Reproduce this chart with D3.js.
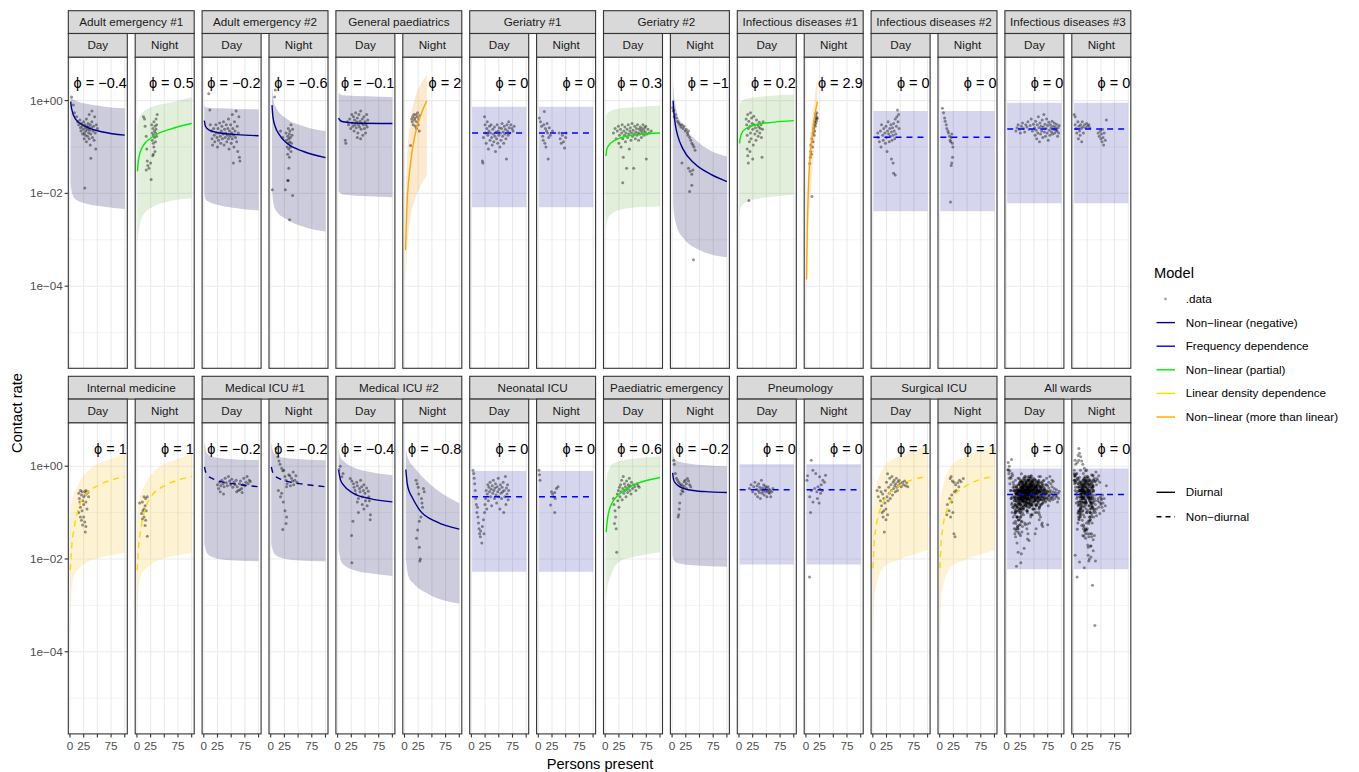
<!DOCTYPE html>
<html>
<head>
<meta charset="utf-8">
<script src="https://cdn.jsdelivr.net/npm/d3@7"></script>
<style>
  body { margin: 0; background: #fff; }
  text { font-family: "Liberation Sans", Arial, sans-serif; }
</style>
</head>
<body>
<svg id="chart"></svg>
<script>
// ---- data ----
const wards = ["Adult emergency #1", "Adult emergency #2", "General paediatrics", "Geriatry #1",
  "Geriatry #2", "Infectious diseases #1", "Infectious diseases #2", "Infectious diseases #3",
  "Internal medicine", "Medical ICU #1", "Medical ICU #2", "Neonatal ICU",
  "Paediatric emergency", "Pneumology", "Surgical ICU", "All wards"];
const periods = ["Day", "Night"];

const phiDay   = [-0.4, -0.2, -0.1, 0, 0.3, 0.2, 0, 0, 1, -0.2, -0.4, 0, 0.6, 0, 1, 0];
const phiNight = [0.5, -0.6, 2, 0, -1, 2.9, 0, 0, 1, -0.2, -0.8, 0, -0.2, 0, 1, 0];

const modelNames = [".data", "Non\u2212linear (negative)", "Frequency dependence", "Non\u2212linear (partial)",
  "Linear density dependence", "Non\u2212linear (more than linear)"];
const modelColors = ["#8c8c8c", "#00008B", "#0000FF", "#00EE00", "#FFD700", "#FFA500"];
const ribbonColors = ["#fff", "#000055", "#2d2daa", "#6eaf46", "#f5c323", "#f5910f"];
const diurnalNames = ["Diurnal", "Non\u2212diurnal"];

// model index per ward (into modelNames)
const modelDay   = [1, 1, 1, 2, 3, 3, 2, 2, 4, 1, 1, 2, 3, 2, 4, 2];
const modelNight = [3, 1, 5, 2, 1, 5, 2, 2, 4, 1, 1, 2, 1, 2, 4, 2];
// 1 = diurnal (solid), 0 = non-diurnal (dashed)
const diurnal = [1, 1, 1, 0, 1, 1, 0, 0, 0, 0, 1, 0, 1, 0, 0, 0];

// fitted curves [persons, rate]
const lineDay = [
  [[1.2,0.95],[3,0.66],[10,0.4],[30,0.27],[60,0.21],[100,0.18]],
  [[1,0.37],[3,0.28],[10,0.23],[30,0.2],[60,0.185],[100,0.175]],
  [[1.8,0.42],[5,0.37],[10,0.35],[30,0.33],[100,0.32]],
  [[1.2,0.2],[100,0.2]],
  [[1.2,0.064],[3,0.09],[10,0.12],[30,0.16],[60,0.185],[100,0.2]],
  [[1,0.12],[2,0.15],[5,0.2],[13,0.25],[30,0.3],[60,0.34],[100,0.37]],
  [[1.2,0.162],[100,0.162]],
  [[1.2,0.245],[100,0.245]],
  [[0.5,0.0057],[3.6,0.021],[8,0.05],[19,0.16],[28,0.24],[43,0.34],[58,0.42],[77,0.51],[100,0.6]],
  [[1.2,0.97],[3,0.78],[8,0.62],[16,0.54],[30,0.47],[60,0.41],[100,0.36]],
  [[1.8,0.82],[5,0.52],[10.9,0.39],[29,0.26],[59.5,0.2],[100,0.17]],
  [[1.2,0.22],[100,0.22]],
  [[1.8,0.038],[4,0.07],[9,0.13],[27.3,0.26],[51.6,0.39],[100,0.57]],
  [[1.2,0.31],[100,0.31]],
  [[0.5,0.0063],[2,0.017],[6,0.049],[15,0.13],[27.3,0.24],[45.5,0.36],[70,0.5],[100,0.6]],
  [[1,0.245],[100,0.245]]
];
const lineNight = [
  [[1,0.03],[3,0.055],[10,0.1],[30,0.17],[60,0.24],[100,0.32]],
  [[2.4,0.8],[4,0.45],[8.5,0.27],[15,0.19],[30,0.12],[60,0.08],[100,0.059]],
  [[1.8,0.0006],[4,0.004],[10,0.035],[20,0.2],[30,0.5],[40.7,1.0]],
  [[1.2,0.2],[100,0.2]],
  [[1.8,1.0],[3,0.6],[6,0.3],[10,0.18],[20,0.09],[40,0.045],[70,0.026],[100,0.018]],
  [[1.2,0.00014],[2.4,0.0014],[4.2,0.01],[7.2,0.053],[10,0.12],[13.3,0.27],[17,0.55],[21.2,0.95]],
  [[1.2,0.162],[100,0.162]],
  [[1.2,0.245],[100,0.245]],
  [[0.5,0.0057],[3.6,0.021],[8,0.05],[19,0.16],[28,0.24],[43,0.34],[58,0.42],[77,0.51],[100,0.6]],
  [[1.2,0.97],[3,0.78],[8,0.62],[16,0.54],[30,0.47],[60,0.41],[100,0.36]],
  [[2.4,0.85],[5,0.42],[8,0.3],[13.5,0.22],[28.5,0.11],[59,0.063],[100,0.044]],
  [[1.2,0.22],[100,0.22]],
  [[1,0.72],[3,0.5],[7,0.42],[14,0.36],[38,0.3],[70,0.28],[100,0.27]],
  [[1.2,0.31],[100,0.31]],
  [[0.5,0.0063],[2,0.017],[6,0.049],[15,0.13],[27.3,0.24],[45.5,0.36],[70,0.5],[100,0.6]],
  [[1,0.245],[100,0.245]]
];

// prediction bands [persons, lower, upper]
const ribbonDay = [
  [[1.2,0.017,1.3],[3,0.011,1.15],[10,0.0075,1.0],[30,0.006,0.85],[60,0.0052,0.75],[100,0.0046,0.68]],
  [[1,0.01,0.8],[3,0.0075,0.72],[10,0.0065,0.7],[30,0.0055,0.68],[60,0.0048,0.66],[100,0.0043,0.65]],
  [[1.8,0.011,1.45],[10,0.0095,1.3],[100,0.0083,1.2]],
  [[1.2,0.005,0.74],[100,0.005,0.74]],
  [[1.2,0.0016,0.45],[3,0.0024,0.52],[10,0.0035,0.6],[30,0.0045,0.68],[60,0.005,0.73],[100,0.0053,0.77]],
  [[1,0.0037,0.74],[3,0.0048,0.9],[10,0.0062,1.05],[30,0.0075,1.18],[60,0.0085,1.27],[100,0.0093,1.33]],
  [[1.2,0.0041,0.6],[100,0.0041,0.6]],
  [[1.2,0.0061,0.9],[100,0.0061,0.9]],
  [[0.5,0.0002,0.042],[2,0.0012,0.12],[3.6,0.0025,0.18],[9.7,0.0049,0.3],[18.9,0.0065,0.5],[34,0.0088,0.82],[52,0.0105,1.14],[77,0.0122,1.46],[100,0.0135,1.87]],
  [[1.2,0.021,3.3],[5,0.014,2.0],[15,0.011,1.6],[40,0.0095,1.45],[100,0.0089,1.35]],
  [[1.8,0.016,2.4],[5,0.01,1.6],[10.9,0.0075,1.3],[29,0.0058,0.95],[59.5,0.0049,0.75],[100,0.0043,0.64]],
  [[1.2,0.0053,0.79],[100,0.0053,0.79]],
  [[1.8,0.0013,0.45],[4,0.0025,0.7],[9,0.004,0.95],[15,0.006,1.15],[27.3,0.009,1.3],[51.6,0.011,1.45],[100,0.014,1.64]],
  [[1.2,0.0076,1.1],[100,0.0076,1.1]],
  [[0.5,0.0002,0.07],[3,0.0015,0.25],[6,0.0025,0.38],[9,0.0035,0.5],[21,0.0068,1.0],[45.5,0.0094,1.6],[100,0.0155,2.6]],
  [[1,0.006,0.89],[100,0.006,0.89]]
];
const ribbonNight = [
  [[1,0.0009,0.28],[3,0.0014,0.4],[10,0.0032,0.55],[30,0.0052,0.75],[60,0.0068,0.9],[100,0.0079,1.2]],
  [[2.4,0.012,2.0],[5,0.006,1.0],[10,0.0042,0.7],[30,0.0027,0.4],[60,0.0019,0.28],[100,0.0015,0.22]],
  [[1.8,0.0001,0.004],[4,0.0004,0.03],[10,0.0025,0.3],[20,0.008,1.2],[30,0.015,2.3],[40.7,0.025,3.6]],
  [[1.2,0.005,0.74],[100,0.005,0.74]],
  [[1.8,0.006,3.0],[3,0.004,1.6],[6,0.0025,0.8],[10,0.0017,0.5],[20,0.0011,0.3],[50,0.0006,0.12],[100,0.00042,0.062]],
  [[1.2,0.00003,0.0003],[2.4,0.0002,0.004],[4.2,0.0012,0.03],[7.2,0.006,0.14],[10,0.015,0.3],[13.3,0.05,0.6],[17,0.15,1.5],[21.2,0.35,3.3]],
  [[1.2,0.0041,0.6],[100,0.0041,0.6]],
  [[1.2,0.0061,0.9],[100,0.0061,0.9]],
  [[0.5,0.0002,0.042],[2,0.0012,0.12],[3.6,0.0025,0.18],[9.7,0.0049,0.3],[18.9,0.0065,0.5],[34,0.0088,0.82],[52,0.0105,1.14],[77,0.0122,1.46],[100,0.0135,1.87]],
  [[1.2,0.021,3.3],[5,0.014,2.0],[15,0.011,1.6],[40,0.0095,1.45],[100,0.0089,1.35]],
  [[2.4,0.01,2.4],[5,0.0055,1.7],[8,0.004,1.35],[16,0.003,1.0],[46,0.0017,0.42],[100,0.0011,0.16]],
  [[1.2,0.0053,0.79],[100,0.0053,0.79]],
  [[1,0.012,2.4],[3,0.0095,1.6],[7,0.0085,1.35],[14,0.008,1.24],[38,0.0073,1.1],[100,0.0068,1.0]],
  [[1.2,0.0076,1.1],[100,0.0076,1.1]],
  [[0.5,0.0002,0.07],[3,0.0015,0.25],[6,0.0025,0.38],[9,0.0035,0.5],[21,0.0068,1.0],[45.5,0.0094,1.6],[100,0.0155,2.6]],
  [[1,0.006,0.89],[100,0.006,0.89]]
];

// observed contact rates [persons present, rate] for the 15 wards
const pointsDay = [
  [[3,1.2],[6,0.8],[8,0.55],[12,0.45],[14,0.35],[16,0.3],[18,0.38],[19,0.26],[20,0.22],[21,0.32],[22,0.28],[23,0.19],[24,0.24],[25,0.35],[26,0.2],[26,0.15],[27,0.3],[28,0.26],[28,0.18],[29,0.22],[30,0.4],[30,0.13],[31,0.28],[32,0.24],[32,0.17],[33,0.32],[34,0.2],[34,0.27],[35,0.5],[35,0.15],[36,0.23],[37,0.3],[37,0.11],[38,0.19],[39,0.26],[40,0.6],[40,0.35],[41,0.16],[42,0.22],[43,0.28],[44,0.14],[45,0.45],[46,0.2],[47,0.09],[48,0.3],[50,0.25],[38,0.057],[27,0.013]],
  [[9,1.4],[11,0.63],[12,0.3],[14,0.22],[15,0.15],[16,0.11],[18,0.25],[19,0.18],[20,0.13],[22,0.3],[23,0.2],[24,0.16],[25,0.1],[26,0.25],[27,0.14],[28,0.2],[29,0.33],[30,0.17],[31,0.12],[32,0.22],[33,0.28],[34,0.15],[35,0.19],[36,0.35],[37,0.11],[38,0.24],[39,0.16],[40,0.2],[41,0.3],[42,0.13],[43,0.18],[44,0.25],[45,0.4],[45,0.15],[46,0.09],[47,0.22],[48,0.17],[49,0.3],[50,0.12],[51,0.2],[52,0.5],[52,0.15],[53,0.25],[54,0.18],[55,0.1],[56,0.35],[57,0.22],[58,0.16],[59,0.6],[60,0.13],[61,0.28],[62,0.08],[63,0.2],[64,0.45],[65,0.06],[54,0.045],[66,0.05]],
  [[14,0.14],[15,0.12],[18,0.35],[20,0.3],[22,0.4],[24,0.25],[26,0.5],[27,0.33],[28,0.28],[29,0.45],[30,0.22],[31,0.38],[32,0.3],[33,0.55],[34,0.26],[35,0.35],[36,0.42],[37,0.2],[38,0.3],[39,0.5],[40,0.27],[41,0.36],[42,0.6],[43,0.24],[44,0.32],[45,0.4],[46,0.18],[47,0.3],[48,0.45],[49,0.25],[50,0.35],[51,0.2],[52,0.3],[53,0.5],[54,0.27],[55,0.38],[42,0.15],[36,0.16]],
  [[20,0.05],[21,0.045],[22,0.16],[24,0.45],[25,0.3],[26,0.2],[27,0.12],[28,0.25],[29,0.35],[30,0.18],[31,0.09],[32,0.22],[33,0.28],[34,0.14],[35,0.2],[36,0.3],[37,0.16],[38,0.11],[39,0.24],[40,0.19],[41,0.13],[42,0.27],[43,0.17],[44,0.08],[45,0.21],[46,0.15],[47,0.3],[48,0.12],[49,0.22],[50,0.18],[51,0.26],[52,0.1],[53,0.2],[54,0.14],[55,0.25],[56,0.32],[57,0.17],[58,0.21],[59,0.12],[60,0.28],[61,0.19],[62,0.24],[63,0.15],[64,0.055],[65,0.3],[66,0.22],[67,0.18],[68,0.35],[69,0.26],[70,0.2],[72,0.3],[74,0.25],[76,0.22],[78,0.28]],
  [[15,0.2],[18,0.25],[20,0.15],[22,0.22],[24,0.28],[25,0.12],[26,0.18],[28,0.24],[29,0.1],[30,0.2],[31,0.3],[32,0.017],[32,0.15],[33,0.06],[34,0.22],[35,0.18],[36,0.27],[37,0.13],[38,0.2],[39,0.035],[40,0.24],[41,0.16],[42,0.3],[43,0.19],[44,0.09],[45,0.22],[46,0.26],[47,0.14],[48,0.2],[49,0.32],[50,0.17],[51,0.23],[52,0.035],[53,0.19],[54,0.28],[55,0.15],[56,0.21],[57,0.25],[58,0.18],[59,0.3],[60,0.2],[61,0.14],[62,0.24],[63,0.19],[64,0.27],[65,0.22],[66,0.16],[67,0.25],[68,0.2],[69,0.3],[70,0.23],[71,0.18],[72,0.26],[73,0.21],[74,0.28],[75,0.055],[76,0.19],[78,0.24],[80,0.2],[84,0.22]],
  [[13,0.4],[14,0.3],[15,0.18],[15,0.09],[16,0.5],[16,0.065],[17,0.045],[17,0.25],[18,0.36],[18,0.007],[19,0.13],[20,0.28],[21,0.55],[21,0.2],[22,0.15],[23,0.42],[24,0.32],[25,0.24],[26,0.11],[27,0.46],[28,0.3],[29,0.19],[30,0.26],[31,0.14],[32,0.38],[33,0.22],[34,0.3],[35,0.17],[36,0.27],[37,0.34],[38,0.2],[39,0.25],[40,0.3],[41,0.16],[42,0.06],[43,0.24],[44,0.35],[20,0.08],[25,0.055]],
  [[9,0.2],[10,0.16],[12,0.13],[14,0.22],[15,0.1],[16,0.3],[18,0.18],[19,0.14],[20,0.25],[22,0.2],[23,0.12],[24,0.28],[25,0.16],[26,0.08],[27,0.22],[28,0.35],[29,0.19],[30,0.13],[31,0.25],[32,0.17],[33,0.3],[34,0.055],[34,0.21],[35,0.14],[36,0.26],[37,0.045],[37,0.18],[38,0.027],[38,0.32],[39,0.22],[40,0.15],[41,0.4],[41,0.025],[42,0.19],[43,0.28],[44,0.45],[45,0.63],[46,0.35],[47,0.5],[48,0.25]],
  [[17,0.22],[19,0.26],[21,0.3],[23,0.24],[25,0.2],[27,0.28],[29,0.33],[31,0.25],[33,0.21],[35,0.3],[37,0.27],[39,0.35],[41,0.24],[43,0.29],[45,0.4],[47,0.22],[49,0.31],[51,0.26],[52,0.18],[53,0.36],[54,0.23],[55,0.15],[56,0.3],[57,0.2],[58,0.45],[59,0.26],[60,0.13],[61,0.33],[62,0.19],[63,0.28],[64,0.22],[65,0.38],[66,0.16],[67,0.27],[68,0.5],[69,0.21],[70,0.31],[71,0.17],[72,0.25],[73,0.4],[74,0.2],[75,0.29],[76,0.14],[77,0.34],[78,0.23],[79,0.18],[80,0.3],[81,0.26],[82,0.21],[83,0.36],[84,0.19],[85,0.28],[86,0.24],[87,0.33],[88,0.2],[89,0.27],[90,0.23],[91,0.31],[92,0.22],[93,0.17],[94,0.26],[95,0.2],[96,0.29]],
  [[16,0.26],[17,0.2],[19,0.3],[21,0.24],[22,0.28],[23,0.18],[25,0.22],[27,0.28],[28,0.24],[29,0.3],[31,0.26],[33,0.28],[34,0.22],[19,0.13],[22,0.11],[25,0.08],[27,0.063],[29,0.05],[28,0.038],[21,0.068],[23,0.054],[31,0.12],[18,0.17],[16,0.1],[25,0.15],[29,0.17],[19,0.08]],
  [[25,0.4],[27,0.33],[29,0.45],[31,0.38],[33,0.5],[35,0.42],[37,0.36],[39,0.55],[41,0.44],[43,0.38],[45,0.6],[47,0.48],[49,0.4],[51,0.52],[53,0.35],[55,0.45],[57,0.4],[59,0.5],[61,0.36],[63,0.3],[65,0.42],[67,0.48],[69,0.33],[71,0.4],[73,0.55],[75,0.38],[77,0.45],[79,0.6],[81,0.42],[83,0.5],[85,0.47],[60,0.28],[70,0.27],[66,0.31],[30,0.28],[36,0.25]],
  [[4.8,1.0],[2.5,0.85],[7.8,0.59],[10,0.7],[23,0.54],[26,0.48],[29,0.42],[30,0.35],[32,0.3],[33,0.25],[35,0.45],[36,0.38],[38,0.2],[40,0.33],[41,0.28],[42,0.5],[44,0.36],[45,0.22],[47,0.3],[48,0.4],[50,0.26],[51,0.18],[53,0.34],[54,0.14],[56,0.29],[57,0.22],[58,0.18],[59.5,0.07],[60,0.09],[48,0.12],[38,0.1],[28,0.065],[25.5,0.032],[26,0.0083],[45,0.15],[36,0.17]],
  [[3,0.82],[4.2,0.7],[5,0.55],[6,0.42],[7,0.3],[8,0.2],[9,0.15],[10,0.1],[11,0.13],[12,0.08],[13,0.06],[14,0.045],[15,0.035],[16.4,0.03],[17,0.04],[19,0.022],[20,0.05],[22,0.07],[23,0.035],[24,0.1],[25,0.15],[26,0.2],[27,0.3],[28,0.12],[29,0.25],[30,0.4],[31,0.18],[32,0.35],[33,0.28],[34,0.45],[35,0.22],[36,0.32],[37,0.14],[38,0.38],[39,0.26],[40,0.5],[41,0.3],[42,0.2],[43,0.34],[44,0.42],[45,0.24],[46,0.16],[47,0.36],[48,0.28],[49,0.55],[50,0.22],[51,0.32],[52,0.12],[53,0.4],[54,0.26],[55,0.2],[56,0.35],[57,0.28],[58,0.45],[59,0.1],[60,0.3],[61,0.22],[62,0.6],[63,0.15],[64,0.34],[65,0.25],[66,0.4],[67,0.19],[68,0.3]],
  [[15,0.2],[16,0.15],[17,0.058],[18,0.11],[19,0.08],[20,0.045],[21,0.014],[22,0.25],[23,0.18],[24,0.3],[25,0.13],[26,0.35],[27,0.22],[28,0.4],[29,0.28],[30,0.5],[31,0.19],[32,0.33],[33,0.6],[34,0.26],[35,0.42],[36,0.3],[37,0.36],[38,0.22],[39,0.48],[40,0.32],[41,0.27],[42,0.4],[43,0.35],[44,0.55],[45,0.3],[46,0.38],[47,0.25],[48,0.45],[50,0.33],[52,0.4],[54,0.36],[56,0.3],[58,0.42],[60,0.38],[62,0.35]],
  [[19,0.33],[22,0.4],[25,0.28],[27,0.36],[29,0.45],[30,0.25],[32,0.32],[33,0.38],[34,0.22],[35,0.3],[36,0.42],[37,0.27],[38,0.35],[39,0.2],[40,0.31],[41,0.5],[42,0.26],[43,0.34],[44,0.29],[45,0.4],[46,0.24],[47,0.32],[48,0.37],[49,0.28],[50,0.34],[51,0.22],[52,0.3],[53,0.36],[54,0.27],[55,0.32],[56,0.26],[57,0.3],[58,0.22],[60,0.28],[62,0.33]],
  [[8,0.3],[10,0.22],[12,0.35],[14,0.18],[15,0.28],[16,0.14],[17,0.1],[18,0.25],[19,0.08],[20,0.2],[21,0.038],[22,0.16],[23,0.3],[24,0.12],[25,0.45],[26,0.22],[27,0.69],[28,0.18],[29,0.35],[30,0.26],[31,0.55],[32,0.2],[33,0.4],[34,0.3],[35,0.6],[36,0.24],[37,0.45],[38,0.33],[39,0.5],[40,0.38],[41,0.28],[42,0.42],[43,0.55],[44,0.35],[45,0.3],[46,0.46],[47,0.38],[48,0.5],[50,0.42],[52,0.36],[54,0.45],[56,0.4],[58,0.48],[60,0.38],[62,0.44],[64,0.36],[20,0.11],[24,0.07],[27,0.09]]
];
const pointsNight = [
  [[12,0.45],[14,0.4],[15,0.28],[17,0.17],[18,0.09],[19,0.05],[17,0.032],[20,0.04],[22,0.035],[25,0.045],[26,0.02],[27,0.3],[28,0.2],[28,0.14],[29,0.25],[30,0.18],[30,0.12],[31,0.35],[31,0.1],[32,0.22],[32,0.16],[33,0.28],[33,0.08],[34,0.2],[34,0.13],[35,0.4],[35,0.24],[36,0.3],[36,0.17],[37,0.5],[29,0.065],[30,0.07]],
  [[8.5,1.7],[7,1.2],[18,0.22],[22,0.16],[28,0.2],[29,0.14],[30,0.1],[31,0.17],[31,0.07],[32,0.25],[32,0.12],[33,0.09],[33,0.15],[34,0.19],[34,0.06],[35,0.13],[35,0.22],[36,0.1],[36,0.16],[37,0.3],[37,0.08],[38,0.12],[39,0.18],[40,0.24],[33,0.035],[31,0.019],[32,0.019],[26.7,0.012],[40,0.009],[34.6,0.0027],[3,0.012]],
  [[11,0.107],[13,0.4],[14,0.35],[15,0.45],[16,0.3],[17,0.5],[18,0.38],[19,0.42],[20,0.28],[21,0.5],[22,0.35],[23,0.45],[24,0.55],[25,0.3],[26,0.4],[27,0.22],[28,0.48],[22,0.25]],
  [[2,0.42],[4,0.35],[6,0.28],[8,0.17],[9,0.14],[10,0.3],[11,0.58],[12,0.12],[13,0.25],[14,0.1],[15,0.22],[16,0.32],[17,0.2],[18,0.055],[19,0.16],[20,0.26],[22,0.18],[26,0.22],[38,0.2],[40,0.15],[42,0.12],[44,0.18],[46,0.13],[48,0.095],[50,0.16],[51,0.2]],
  [[1,0.7],[2,0.6],[3,0.63],[4,0.45],[6,0.5],[8,0.42],[10,0.36],[12,0.33],[14,0.3],[16,0.27],[18,0.3],[20,0.25],[22,0.28],[24,0.22],[26,0.24],[28,0.2],[29,0.18],[30,0.22],[32,0.16],[34,0.14],[36,0.12],[38,0.11],[40,0.1],[42,0.085],[18,0.045],[30,0.035],[33,0.03],[36,0.026],[38,0.032],[32,0.011],[36,0.015],[39,0.00037]],
  [[7,0.044],[8,0.06],[9,0.08],[9,0.11],[10,0.07],[11,0.0086],[11,0.15],[12,0.1],[13,0.2],[13,0.13],[14,0.25],[15,0.18],[15,0.3],[16,0.35],[16,0.22],[17,0.4],[17,0.28],[18,0.5],[18,0.32],[19,0.45],[19,0.36],[20,0.55],[20,0.4],[21,0.42]],
  [[5,0.68],[7,0.55],[9,0.42],[10,0.36],[12,0.3],[13,0.25],[15,0.22],[16,0.2],[18,0.17],[19,0.14],[20,0.13],[21,0.16],[22,0.19],[23,0.12],[24,0.1],[23.5,0.06],[22,0.045],[21,0.04],[19.7,0.0065]],
  [[1,0.5],[3,0.45],[3,0.3],[5,0.25],[6,0.2],[8,0.35],[9,0.15],[10,0.28],[11,0.22],[12,0.18],[13,0.3],[14,0.25],[15,0.13],[16,0.35],[17,0.27],[18,0.2],[20,0.3],[22,0.26],[24,0.32],[26,0.28],[28,0.3],[30,0.26],[45,0.2],[47,0.17],[49,0.22],[50,0.15],[51,0.19],[52,0.13],[53,0.24],[54,0.16],[55,0.11],[56,0.2],[58,0.14],[60,0.38]],
  [[13,0.22],[16,0.2],[19,0.22],[10,0.17],[15,0.14],[11,0.11],[8.5,0.095],[13,0.08],[16,0.068],[19,0.031],[5,0.16],[17,0.11],[13,0.12],[10,0.073],[15,0.053]],
  [[9.7,2.4],[10.9,1.9],[13,1.6],[15,1.3],[17,1.1],[20,0.9],[22,0.8],[24,0.82],[26,0.6],[28,0.5],[30,0.42],[33,0.65],[35,0.62],[38,0.55],[41,0.75],[44,0.5],[46,0.62],[48,0.45],[42,0.4],[36,0.38],[29,0.36],[20,0.26],[23,0.17],[26,0.11],[29,0.08],[28,0.058],[22,0.043],[14,0.3],[18,0.22],[40,0.48]],
  [[21,0.5],[23,0.42],[25,0.35],[34.6,0.33],[36,0.28],[31,0.2],[33,0.13],[30,0.08],[27,0.065],[24,0.042],[22,0.028],[27,0.018],[29,0.01],[28,0.009],[32,0.16],[26,0.25]],
  [[1.2,0.82],[2,0.65],[3,0.5],[24,0.28],[26,0.25],[28,0.22],[30,0.27],[33,0.33],[36,0.36],[22.4,0.145],[30,0.1],[31,0.2]],
  [[3,1.35],[4,1.1],[6,0.7],[8,0.55],[10,0.5],[12,0.45],[14,0.42],[16,0.38],[18,0.4],[20,0.34],[22,0.46],[24,0.5],[26,0.42],[28,0.54],[30,0.48],[32,0.4],[34,0.36],[26,0.33],[20,0.28],[16,0.25],[14,0.16],[13,0.12],[12,0.09],[11,0.08],[18,0.3],[22,0.37]],
  [[9.7,1.35],[1.8,0.5],[3,0.62],[12.7,0.82],[18,0.7],[25,0.59],[31,0.5],[35.8,0.64],[34,0.45],[28,0.4],[22,0.36],[16,0.33],[10,0.3],[7,0.22],[13,0.17],[21,0.2],[24,0.16],[27,0.26],[30,0.3],[8.5,0.1],[6.6,0.0041],[20,0.28],[26,0.32]],
  [[19,0.54],[21,0.6],[23,0.48],[26,0.45],[29,0.4],[33,0.44],[36,0.5],[39,0.46],[43,0.54],[35,0.36],[30,0.3],[27,0.28],[22,0.24],[18,0.2],[14,0.15],[17,0.11],[24,0.1],[20,0.08],[26,0.035],[28,0.03],[13,0.09],[22,0.17]]
];
// "All wards" pools every ward's observations
pointsDay.push(pointsDay.flat());
pointsNight.push(pointsNight.flat());

const xTicks = [0, 25, 50, 75, 100];
const xTickLabels = ["0", "25", "", "75", ""];
const yMajor = [1, 1e-2, 1e-4];
const yMajorLabels = ["1e+00", "1e\u221202", "1e\u221204"];
const yMinor = [1e-1, 1e-3, 1e-5];

// ---- layout ----
const W = 1359, H = 772;
const left0 = 68.3, subW = 59, step = 66.9;
const rowTop = [10.7, 376.3];
const wardH = 22.8, subH = 23.8, panelH = 311;

const svg = d3.select("#chart").attr("width", W).attr("height", H);
svg.append("rect").attr("width", W).attr("height", H).attr("fill", "#fff");

const x = d3.scaleLinear().domain([-3.1, 104.6]).range([0, subW]);
const y = d3.scaleLog().domain([Math.pow(10, -5.77), Math.pow(10, 0.933)]).range([panelH, 0]);

const line = d3.line().x(d => x(d[0])).y(d => y(d[1])).curve(d3.curveMonotoneX);
const area = d3.area().x(d => x(d[0])).y0(d => y(d[1])).y1(d => y(d[2])).curve(d3.curveMonotoneX);

const fmtPhi = v => "\u03D5 = " + (v < 0 ? "\u2212" + Math.abs(v) : v);

const defs = svg.append("defs");
defs.append("clipPath").attr("id", "clip")
  .append("rect").attr("width", subW).attr("height", panelH);

wards.forEach((ward, w) => {
  const row = Math.floor(w / 8), col = w % 8;
  const top = rowTop[row];
  const wx = left0 + step * col * 2;

  // ward strip
  svg.append("rect")
    .attr("x", wx).attr("y", top).attr("width", step + subW).attr("height", wardH)
    .attr("fill", "#D9D9D9").attr("stroke", "#333").attr("stroke-width", 1.1);
  svg.append("text")
    .attr("x", wx + (step + subW) / 2).attr("y", top + wardH / 2 + 4)
    .attr("text-anchor", "middle").attr("font-size", "11.7px").attr("fill", "#1A1A1A")
    .text(ward);

  periods.forEach((period, p) => {
    const px = wx + step * p;
    const py = top + wardH + subH;
    const model = p === 0 ? modelDay[w] : modelNight[w];
    const fit = p === 0 ? lineDay[w] : lineNight[w];
    const band = p === 0 ? ribbonDay[w] : ribbonNight[w];
    const pts = p === 0 ? pointsDay[w] : pointsNight[w];
    const phi = p === 0 ? phiDay[w] : phiNight[w];

    // period strip
    svg.append("rect")
      .attr("x", px).attr("y", top + wardH).attr("width", subW).attr("height", subH)
      .attr("fill", "#D9D9D9").attr("stroke", "#333").attr("stroke-width", 1.1);
    svg.append("text")
      .attr("x", px + subW / 2).attr("y", top + wardH + subH / 2 + 4)
      .attr("text-anchor", "middle").attr("font-size", "11.7px").attr("fill", "#1A1A1A")
      .text(period);

    const g = svg.append("g").attr("transform", `translate(${px},${py})`);
    g.append("rect").attr("width", subW).attr("height", panelH).attr("fill", "#fff");

    // grid
    g.selectAll(".ymin").data(yMinor).enter().append("line")
      .attr("x1", 0).attr("x2", subW).attr("y1", d => y(d)).attr("y2", d => y(d))
      .attr("stroke", "#EBEBEB").attr("stroke-width", 0.6);
    g.selectAll(".ymaj").data(yMajor).enter().append("line")
      .attr("x1", 0).attr("x2", subW).attr("y1", d => y(d)).attr("y2", d => y(d))
      .attr("stroke", "#EBEBEB").attr("stroke-width", 1.1);
    g.selectAll(".xmaj").data(xTicks).enter().append("line")
      .attr("x1", d => x(d)).attr("x2", d => x(d)).attr("y1", 0).attr("y2", panelH)
      .attr("stroke", "#EBEBEB").attr("stroke-width", 1.1);

    const body = g.append("g").attr("clip-path", "url(#clip)");
    body.append("path").datum(band)
      .attr("d", area)
      .attr("fill", ribbonColors[model]).attr("fill-opacity", 0.2);

    body.selectAll("circle").data(pts).enter().append("circle")
      .attr("cx", d => x(d[0])).attr("cy", d => y(d[1])).attr("r", 1.5)
      .attr("fill", "#000").attr("fill-opacity", 0.42);

    body.append("path").datum(fit)
      .attr("d", line)
      .attr("fill", "none").attr("stroke", modelColors[model]).attr("stroke-width", 1.4)
      .attr("stroke-dasharray", diurnal[w] ? null : "6,5");

    g.append("rect").attr("width", subW).attr("height", panelH)
      .attr("fill", "none").attr("stroke", "#333").attr("stroke-width", 1.1);

    g.append("text")
      .attr("x", subW - 0.5).attr("y", 26).attr("dy", "0.35em")
      .attr("text-anchor", "end").attr("font-size", "14.5px").attr("fill", "#000")
      .text(fmtPhi(phi));

    // y axis on the first panel of each row
    if (col === 0 && p === 0) {
      g.selectAll(".ytick").data(yMajor).enter().append("line")
        .attr("x1", -3.7).attr("x2", 0).attr("y1", d => y(d)).attr("y2", d => y(d))
        .attr("stroke", "#333").attr("stroke-width", 1.1);
      g.selectAll(".ylab").data(yMajor).enter().append("text")
        .attr("x", -5.5).attr("y", d => y(d)).attr("dy", "0.35em")
        .attr("text-anchor", "end").attr("font-size", "11.7px").attr("fill", "#4D4D4D")
        .text((d, i) => yMajorLabels[i]);
    }
    // x axis under the bottom row
    if (row === 1) {
      g.selectAll(".xtick").data(xTicks).enter().append("line")
        .attr("x1", d => x(d)).attr("x2", d => x(d)).attr("y1", panelH).attr("y2", panelH + 3.7)
        .attr("stroke", "#333").attr("stroke-width", 1.1);
      g.selectAll(".xlab").data(xTicks).enter().append("text")
        .attr("x", d => x(d)).attr("y", panelH + 16.5)
        .attr("text-anchor", "middle").attr("font-size", "11.7px").attr("fill", "#4D4D4D")
        .text((d, i) => xTickLabels[i]);
    }
  });
});

// axis titles
svg.append("text").attr("x", 600).attr("y", 769)
  .attr("text-anchor", "middle").attr("font-size", "14.67px").attr("fill", "#000")
  .text("Persons present");
svg.append("text").attr("transform", "translate(22,413) rotate(-90)")
  .attr("text-anchor", "middle").attr("font-size", "14.67px").attr("fill", "#000")
  .text("Contact rate");

// legend: model
const lg = svg.append("g").attr("transform", "translate(1154,0)");
lg.append("text").attr("x", 0).attr("y", 278).attr("font-size", "14.67px").attr("fill", "#000").text("Model");
modelNames.forEach((name, i) => {
  const cy = 299 + i * 23.6;
  if (i === 0) {
    lg.append("circle").attr("cx", 11.5).attr("cy", cy).attr("r", 1.4)
      .attr("fill", "#000").attr("fill-opacity", 0.35);
  } else {
    lg.append("line").attr("x1", 2.5).attr("x2", 21).attr("y1", cy).attr("y2", cy)
      .attr("stroke", modelColors[i]).attr("stroke-width", 1.4);
  }
  lg.append("text").attr("x", 31.7).attr("y", cy).attr("dy", "0.35em")
    .attr("font-size", "11.7px").attr("fill", "#000").text(name);
});
// legend: diurnal
diurnalNames.forEach((name, i) => {
  const cy = 492.3 + i * 24.4;
  lg.append("line").attr("x1", 2.5).attr("x2", 21).attr("y1", cy).attr("y2", cy)
    .attr("stroke", "#000").attr("stroke-width", 1.4)
    .attr("stroke-dasharray", i === 0 ? null : "5,4");
  lg.append("text").attr("x", 31.7).attr("y", cy).attr("dy", "0.35em")
    .attr("font-size", "11.7px").attr("fill", "#000").text(name);
});
</script>
</body>
</html>
